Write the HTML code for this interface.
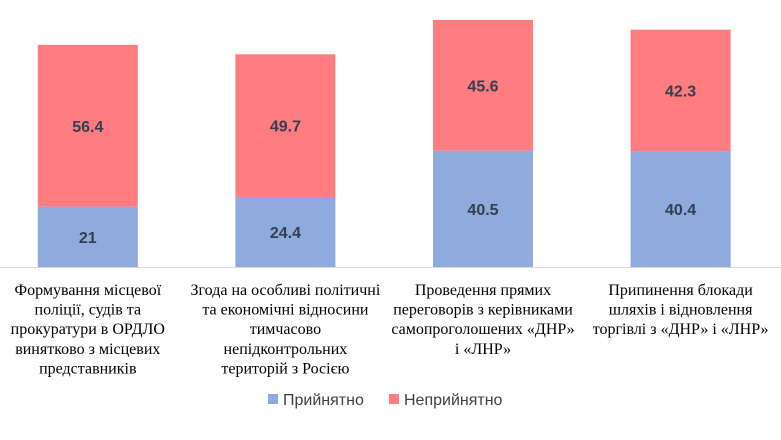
<!DOCTYPE html>
<html><head><meta charset="utf-8">
<style>
body{margin:0;width:781px;height:440px;background:#fff;overflow:hidden}
svg{display:block}
</style></head>
<body>
<svg id="chart" width="781" height="440"></svg>
<script>
const categories = [
  ["Формування місцевої","поліції, судів та","прокуратури в ОРДЛО","винятково з місцевих","представників"],
  ["Згода на особливі політичні","та економічні відносини","тимчасово","непідконтрольних","територій з Росією"],
  ["Проведення прямих","переговорів з керівниками","самопроголошених «ДНР»","і «ЛНР»"],
  ["Припинення блокади","шляхів і відновлення","торгівлі з «ДНР» і «ЛНР»"]
];
const acceptable = [21, 24.4, 40.5, 40.4];
const unacceptable = [56.4, 49.7, 45.6, 42.3];

const NS="http://www.w3.org/2000/svg";
const svg=document.getElementById('chart');
const base=267, scale=2.87, left=-11, band=197.6, bw=100;
function y(v){return base - v*scale;}
function cx(i){return left + band*(i+0.5);}
function mk(t,a){const e=document.createElementNS(NS,t);for(const k in a)e.setAttribute(k,a[k]);svg.appendChild(e);return e;}

const axis=mk('line',{x1:0,x2:781,y1:base+0.5,y2:base+0.5,stroke:'#d9d9d9','stroke-width':1});



categories.forEach((lines,i)=>{
  const a=acceptable[i], u=unacceptable[i], x=cx(i)-bw/2;
  const r1=mk('rect',{x:x,y:y(a),width:bw,height:a*scale,fill:'#8FAADC'});
  
  
  const r2=mk('rect',{x:x,y:y(a+u),width:bw,height:u*scale,fill:'#FF7C80'});
  
  
  const t1=mk('text',{x:cx(i),y:y(a/2)+6,'text-anchor':'middle','font-family':'"Liberation Sans",sans-serif','font-size':16,'font-weight':'bold',fill:'#333f50'});
  t1.textContent=String(a);
  
  
  const t2=mk('text',{x:cx(i),y:y(a+u/2)+6,'text-anchor':'middle','font-family':'"Liberation Sans",sans-serif','font-size':16,'font-weight':'bold',fill:'#333f50'});
  t2.textContent=String(u);
  
  
  lines.forEach((ln,j)=>{
    const t=mk('text',{x:cx(i),y:295+j*19.6,'text-anchor':'middle','font-family':'"Liberation Serif",serif','font-size':16,fill:'#000'});
    t.textContent=ln;
    
    
  });
});

const l1=mk('rect',{x:268,y:394,width:10,height:10,fill:'#8FAADC'});


const lt1=mk('text',{x:283,y:405,'font-family':'"Liberation Sans",sans-serif','font-size':16,fill:'#404040'});
lt1.textContent='Прийнятно';


const l2=mk('rect',{x:389,y:394,width:10,height:10,fill:'#FF7C80'});


const lt2=mk('text',{x:404,y:405,'font-family':'"Liberation Sans",sans-serif','font-size':16,fill:'#404040'});
lt2.textContent='Неприйнятно';


</script>
</body></html>
